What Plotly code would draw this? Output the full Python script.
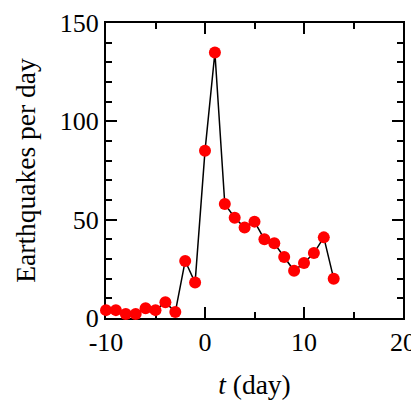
import plotly.graph_objects as go

# Dados
dias = [-10, -9, -8, -7, -6, -5, -4, -3, -2, -1, 0, 1, 2, 3, 4, 5, 6, 7, 8, 9, 10, 11, 12, 13]
terremotos = [4, 4, 2, 2, 5, 4, 8, 3, 29, 18, 85, 135, 58, 51, 46, 49, 40, 38, 31, 24, 28, 33, 41, 20]

ticks_x = [-10, 0, 10, 20]
rotulos_x = ['-10', '0', '10', '20']
ticks_y = [0, 50, 100, 150]
rotulos_y = ['0', '50', '100', '150']

fonte = dict(family='Liberation Serif, Times New Roman, serif', size=26, color='black')
fonte_titulo = dict(family='Liberation Serif, Times New Roman, serif', size=27.5, color='black')

fig = go.Figure()

fig.add_trace(go.Scatter(x=dias,
                         y=terremotos,
                         mode='lines+markers',
                         line=dict(color='black', width=1.5),
                         marker=dict(color='red', size=12),
                         cliponaxis=False,
                         showlegend=False))

eixo = dict(showline=True, linecolor='black', linewidth=2, mirror='ticks',
            ticks='inside', ticklen=11, tickwidth=1.5, tickcolor='black',
            showgrid=False, zeroline=False, layer='below traces',
            tickfont=fonte, automargin=False)

fig.update_xaxes(range=[-10, 20], tickvals=ticks_x, ticktext=rotulos_x,
                 minor=dict(dtick=5, tick0=0, ticks='inside', ticklen=6, tickcolor='black', tickwidth=1.5),
                 title=dict(text='<i>t</i> (day)', font=fonte_titulo, standoff=19),
                 **eixo)
fig.update_yaxes(range=[0, 150], tickvals=ticks_y, ticktext=rotulos_y,
                 minor=dict(dtick=10, tick0=0, ticks='inside', ticklen=6, tickcolor='black', tickwidth=1.5),
                 title=dict(text='Earthquakes per day', font=fonte_titulo, standoff=16),
                 **eixo)

# a página tem margem de 8px no body, por isso a figura é 8px menor
fig.update_layout(width=411, height=399,
                  margin=dict(l=98, r=16, t=15, b=89),
                  plot_bgcolor='white', paper_bgcolor='white',
                  font=fonte)

fig.write_html("out.html")
